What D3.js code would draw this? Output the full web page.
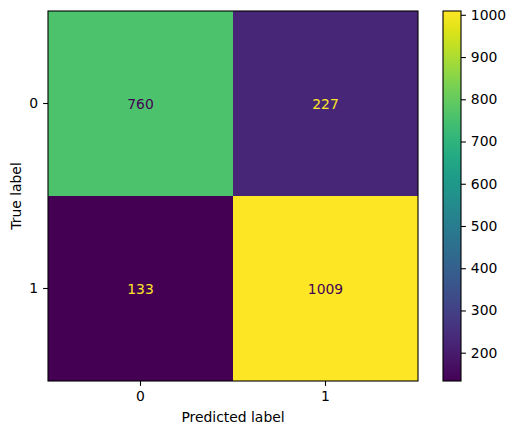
<!DOCTYPE html>
<html><head><meta charset="utf-8">
<script src="https://cdn.jsdelivr.net/npm/d3@7"></script>
<style>body{margin:0;background:#fff}svg{display:block;font-family:"DejaVu Sans",sans-serif}</style>
</head><body><div id="chart"></div>
<script>
const classes = ["0", "1"];
const matrix = [[760, 227], [133, 1009]];
const cbarTicks = [200, 300, 400, 500, 600, 700, 800, 900, 1000];

const W = 515, H = 434;
const ax = {l: 48, t: 11, w: 370, h: 370};
const cb = {l: 443, t: 11, w: 18, h: 370};
const svg = d3.select("#chart").append("svg").attr("width", W).attr("height", H);

const flat = matrix.flat();
const vmin = d3.min(flat), vmax = d3.max(flat);
const color = d3.scaleSequential(d3.interpolateViridis).domain([vmin, vmax]);
const x = d3.scaleBand().domain(classes).range([ax.l, ax.l + ax.w]);
const y = d3.scaleBand().domain(classes).range([ax.t, ax.t + ax.h]);

const cells = [];
matrix.forEach((row, i) => row.forEach((v, j) => cells.push({i, j, v})));
const thresh = (vmin + vmax) / 2;

svg.append("g").selectAll("rect").data(cells).join("rect")
  .attr("x", d => x(classes[d.j])).attr("y", d => y(classes[d.i]))
  .attr("width", x.bandwidth()).attr("height", y.bandwidth())
  .attr("fill", d => color(d.v));

svg.append("g").selectAll("text").data(cells).join("text")
  .attr("x", d => x(classes[d.j]) + x.bandwidth() / 2)
  .attr("y", d => y(classes[d.i]) + y.bandwidth() / 2)
  .attr("text-anchor", "middle").attr("dominant-baseline", "central")
  .attr("font-size", 13.9)
  .attr("fill", d => d.v < thresh ? d3.interpolateViridis(1) : d3.interpolateViridis(0))
  .text(d => d.v);

svg.append("rect").attr("x", ax.l).attr("y", ax.t).attr("width", ax.w).attr("height", ax.h)
  .attr("fill", "none").attr("stroke", "#000").attr("stroke-width", 1.1);

const xAxis = svg.append("g").attr("transform", `translate(0,${ax.t + ax.h})`)
  .call(d3.axisBottom(x).tickSize(4.9).tickPadding(4.9));
const yAxis = svg.append("g").attr("transform", `translate(${ax.l},0)`)
  .call(d3.axisLeft(y).tickSize(4.9).tickPadding(4.9));
[xAxis, yAxis].forEach(g => {
  g.select(".domain").remove();
  g.selectAll("line").attr("stroke", "#000").attr("stroke-width", 1.1);
  g.selectAll("text").attr("font-size", 13.9).attr("fill", "#000").attr("font-family", "DejaVu Sans");
});

svg.append("text").attr("x", ax.l + ax.w / 2).attr("y", 422)
  .attr("text-anchor", "middle").attr("font-size", 13.9).text("Predicted label");
svg.append("text").attr("transform", `translate(21,${ax.t + ax.h / 2}) rotate(-90)`)
  .attr("text-anchor", "middle").attr("font-size", 13.9).text("True label");

// colorbar
const defs = svg.append("defs");
const grad = defs.append("linearGradient").attr("id", "cbg")
  .attr("x1", 0).attr("y1", 1).attr("x2", 0).attr("y2", 0);
d3.range(0, 1.0001, 0.05).forEach(t => grad.append("stop")
  .attr("offset", t).attr("stop-color", d3.interpolateViridis(t)));
svg.append("rect").attr("x", cb.l).attr("y", cb.t).attr("width", cb.w).attr("height", cb.h)
  .attr("fill", "url(#cbg)");
const cy = d3.scaleLinear().domain([vmin, vmax]).range([cb.t + cb.h, cb.t]);
const cAxis = svg.append("g").attr("transform", `translate(${cb.l + cb.w},0)`)
  .call(d3.axisRight(cy).tickValues(cbarTicks).tickSize(4.9).tickPadding(4.9).tickFormat(d3.format("d")));
cAxis.select(".domain").remove();
cAxis.selectAll("line").attr("stroke", "#000").attr("stroke-width", 1.1);
cAxis.selectAll("text").attr("font-size", 13.9).attr("fill", "#000").attr("font-family", "DejaVu Sans");
svg.append("rect").attr("x", cb.l).attr("y", cb.t).attr("width", cb.w).attr("height", cb.h)
  .attr("fill", "none").attr("stroke", "#000").attr("stroke-width", 1.1);
</script></body></html>
